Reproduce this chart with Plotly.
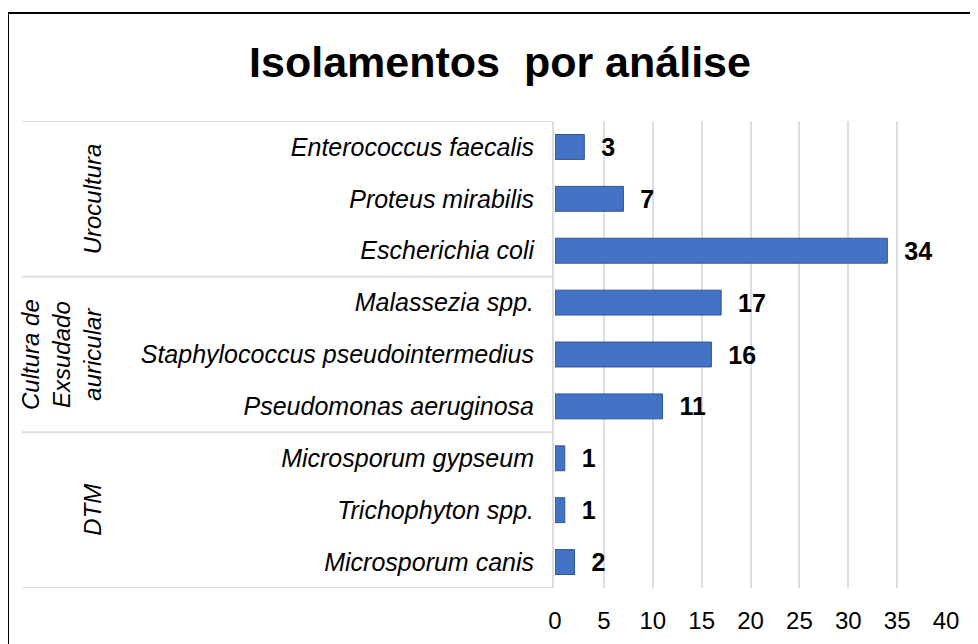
import plotly.graph_objects as go

# ---- data ----
groups = ["Urocultura", "Cultura de<br>Exsudado<br>auricular", "DTM"]
group_species = [
    ["Enterococcus faecalis", "Proteus mirabilis", "Escherichia coli"],
    ["Malassezia spp.", "Staphylococcus pseudointermedius", "Pseudomonas aeruginosa"],
    ["Microsporum gypseum", "Trichophyton spp.", "Microsporum canis"],
]
group_values = [
    [3, 7, 34],
    [17, 16, 11],
    [1, 1, 2],
]
x_ticks = [0, 5, 10, 15, 20, 25, 30, 35, 40]
title_text = "Isolamentos  por análise"

species = [s for g in group_species for s in g]
values = [v for g in group_values for v in g]

# ---- layout constants (pixels, in screenshot coordinates) ----
OFF = 8  # default page body margin
W, H = 978, 644
PL, PR, PT, PB = 555, 946, 121, 588  # plot area edges in screenshot px
ML = PL - OFF
MT = PT - OFF
MR = W - (PR - OFF)
MB = H - (PB - OFF)
PW = PR - PL
PH = PB - PT

def px_x(p):
    return (p - PL) / PW

def px_y(p):
    return (PB - p) / PH

FONT = "Liberation Sans, Arial, sans-serif"
GRID = "#D9DEE7"

fig = go.Figure()
fig.add_trace(go.Bar(
    y=species,
    x=values,
    orientation="h",
    marker=dict(color="#4472C4", line=dict(color="#2F5597", width=1)),
    text=[f"  {v}" for v in values],
    textposition="outside",
    constraintext="none",
    textfont=dict(family=FONT, size=25, color="#000000", weight="bold"),
    cliponaxis=False,
    hoverinfo="skip",
))

shapes = []
# outer frame
shapes.append(dict(type="rect", xref="paper", yref="paper",
                   x0=px_x(8), x1=px_x(1010), y0=px_y(700), y1=px_y(13),
                   line=dict(color="#000000", width=2), fillcolor="rgba(0,0,0,0)",
                   layer="below"))
# group separators
bounds = [-0.5]
for g in group_species:
    bounds.append(bounds[-1] + len(g))
for b in bounds:
    shapes.append(dict(type="line", xref="paper", yref="y",
                       x0=px_x(22), x1=px_x(553), y0=b, y1=b,
                       line=dict(color=GRID, width=2)))
shapes.append(dict(type="line", xref="paper", yref="y",
                   x0=px_x(553), x1=px_x(553), y0=bounds[0], y1=bounds[-1],
                   line=dict(color=GRID, width=2)))

annotations = []
for i, g in enumerate(groups):
    center = (bounds[i] + bounds[i + 1]) / 2
    annotations.append(dict(
        text=g, xref="paper", yref="y", x=px_x(108), y=center,
        xanchor="right", yanchor="middle", textangle=-90, showarrow=False,
        align="center",
        font=dict(family=FONT, size=24, color="#000000", style="italic"),
    ))

fig.update_layout(
    width=W, height=H,
    margin=dict(l=ML, r=MR, t=MT, b=MB, pad=0),
    paper_bgcolor="white", plot_bgcolor="white",
    showlegend=False,
    bargap=0.52,
    title=dict(text=title_text, x=(500 - OFF) / W, xanchor="center",
               y=1 - (62 - OFF) / H, yanchor="middle",
               font=dict(family=FONT, size=43, color="#000000", weight="bold")),
    xaxis=dict(range=[x_ticks[0], x_ticks[-1]], tickvals=x_ticks,
               showgrid=True, gridcolor=GRID, gridwidth=2,
               zeroline=False, showline=False, ticks="",
               ticklabelstandoff=16,
               tickfont=dict(family=FONT, size=24, color="#000000")),
    yaxis=dict(categoryorder="array", categoryarray=species,
               range=[bounds[-1], bounds[0]],
               showgrid=False, zeroline=False, showline=False, ticks="",
               ticklabelstandoff=20,
               tickfont=dict(family=FONT, size=25, color="#000000", style="italic")),
    shapes=shapes,
    annotations=annotations,
)

fig.write_html("out.html")
